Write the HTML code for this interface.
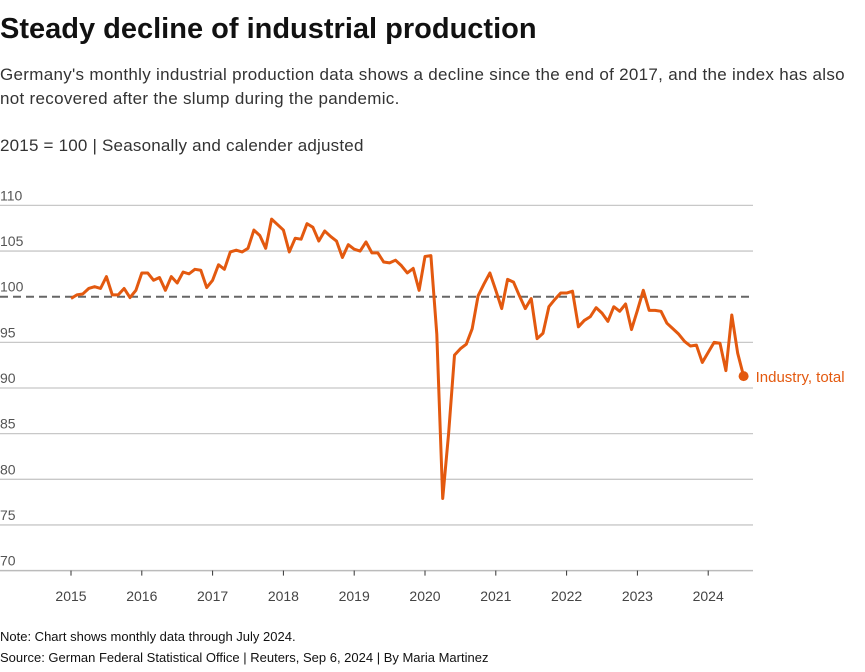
<!DOCTYPE html>
<html><head><meta charset="utf-8"><style>
body{margin:0;width:865px;height:672px;background:#fff;font-family:"Liberation Sans",sans-serif;color:#222;overflow:hidden;position:relative}
.t{position:absolute;left:0;white-space:nowrap}
</style></head><body>
<div class="t" style="top:13px;font-size:29px;font-weight:bold;letter-spacing:0px;color:#111">Steady decline of industrial production</div>
<div class="t" style="top:65px;font-size:17px;color:#333;letter-spacing:0.3px">Germany's monthly industrial production data shows a decline since the end of 2017, and the index has also</div>
<div class="t" style="top:89px;font-size:17px;color:#333;letter-spacing:0.3px">not recovered after the slump during the pandemic.</div>
<div class="t" style="top:136px;font-size:17px;color:#333;letter-spacing:0.2px">2015 = 100 | Seasonally and calender adjusted</div>
<svg id="chart" width="865" height="672" style="position:absolute;left:0;top:0" font-family="Liberation Sans, sans-serif"></svg>
<div class="t" style="top:629px;font-size:13px;color:#111">Note: Chart shows monthly data through July 2024.</div>
<div class="t" style="top:650px;font-size:13px;color:#111">Source: German Federal Statistical Office | Reuters, Sep 6, 2024 | By Maria Martinez</div>
<script>
const yTicks=[70,75,80,85,90,95,100,105,110];
const years=[2015,2016,2017,2018,2019,2020,2021,2022,2023,2024];
const values=[99.8,100.2,100.3,100.9,101.1,100.9,102.2,100.2,100.2,100.9,99.9,100.7,
102.6,102.6,101.8,102.1,100.7,102.2,101.5,102.7,102.5,103.0,102.9,101.0,
101.8,103.5,103.0,104.9,105.1,104.9,105.3,107.3,106.7,105.3,108.5,107.9,
107.3,104.9,106.4,106.3,108.0,107.6,106.1,107.2,106.6,106.1,104.3,105.7,
105.2,105.0,106.0,104.8,104.8,103.8,103.7,104.0,103.4,102.6,103.1,100.7,
104.4,104.5,95.9,77.9,85.0,93.6,94.3,94.8,96.5,100.1,101.4,102.6,
100.7,98.7,101.9,101.6,100.1,98.7,99.8,95.4,96.0,98.9,99.7,100.4,
100.4,100.6,96.7,97.4,97.8,98.8,98.2,97.3,98.9,98.4,99.2,96.4,
98.5,100.7,98.5,98.5,98.4,97.1,96.5,95.9,95.1,94.6,94.7,92.8,
93.9,95.0,94.9,91.9,98.0,93.8,91.3];
const seriesLabel="Industry, total";
const NS="http://www.w3.org/2000/svg";
const svg=document.getElementById('chart');
const y=v=>296.7-(v-100)*9.13;
const x=i=>71+i*70.8/12;
function mk(t,a){const e=document.createElementNS(NS,t);for(const k in a)e.setAttribute(k,a[k]);svg.appendChild(e);return e;}
yTicks.forEach(v=>{
  if(v!==70&&v!==100){const l=mk('line',{x1:0,x2:753,y1:y(v),y2:y(v),stroke:'#c8c8c8','stroke-width':1.3});
  
  }
  const t=mk('text',{x:0,y:y(v)-5,'font-size':14,fill:'#555'});t.textContent=v;
  
  
});
const ref=mk('line',{x1:0,x2:753,y1:y(100),y2:y(100),stroke:'#666','stroke-width':2,'stroke-dasharray':'8,5'});


const ax=mk('line',{x1:0,x2:753,y1:y(70),y2:y(70),stroke:'#bbb','stroke-width':1.5});


years.forEach((yr,k)=>{
  const xx=x(k*12);
  const tk=mk('line',{x1:xx,x2:xx,y1:y(70),y2:y(70)+5,stroke:'#333','stroke-width':1});
  
  
  const t=mk('text',{x:xx,y:601,'font-size':14,fill:'#444','text-anchor':'middle'});t.textContent=yr;
  
  
});
const p=mk('polyline',{points:values.map((v,i)=>x(i)+','+y(v)).join(' '),fill:'none',stroke:'#e3590f','stroke-width':3,'stroke-linejoin':'round'});


const li=values.length-1;
const d=mk('circle',{cx:x(li),cy:y(values[li]),r:5,fill:'#e3590f'});


const lb=mk('text',{x:x(li)+12,y:y(values[li])+6,'font-size':15,fill:'#e3590f'});lb.textContent=seriesLabel;


</script>
</body></html>
